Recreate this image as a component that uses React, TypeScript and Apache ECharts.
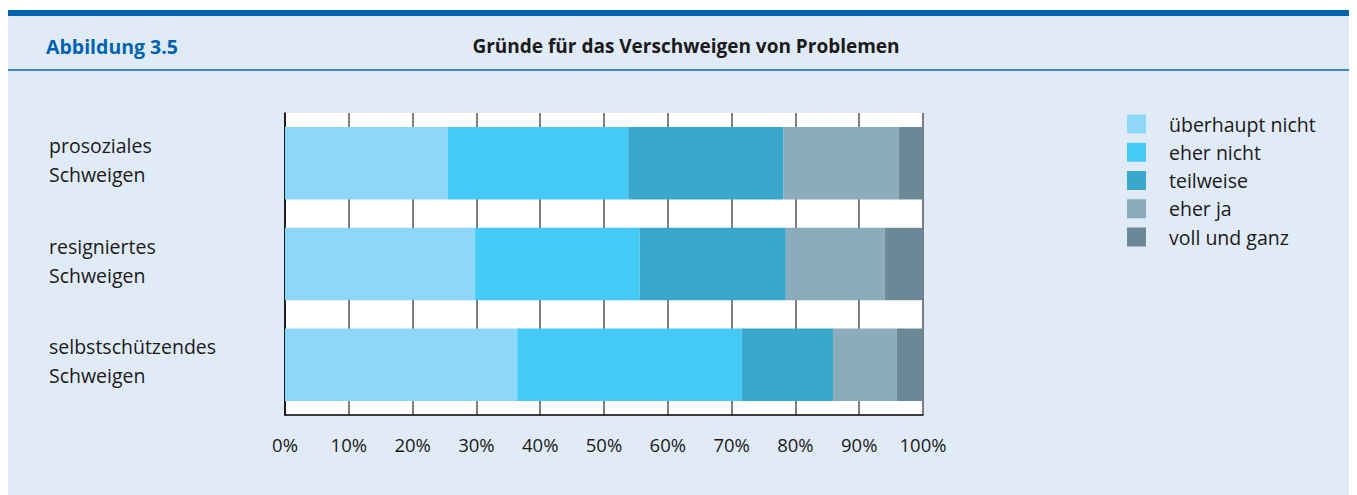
import React, { useEffect, useRef } from "react";
import * as echarts from "echarts";

const categories = ["prosoziales\nSchweigen", "resigniertes\nSchweigen", "selbstschützendes\nSchweigen"];
const seriesNames = ["überhaupt nicht", "eher nicht", "teilweise", "eher ja", "voll und ganz"];
const ueberhauptNicht = [25.5, 29.8, 36.4];
const eherNicht = [28.3, 25.8, 35.2];
const teilweise = [24.3, 22.9, 14.3];
const eherJa = [18.1, 15.5, 10.0];
const vollUndGanz = [3.8, 6.0, 4.1];
const seriesValues = [ueberhauptNicht, eherNicht, teilweise, eherJa, vollUndGanz];
const colors = ["#8DD7F7", "#45C9F5", "#3AA7CC", "#8BACBD", "#6A8896"];
const figureLabel = "Abbildung 3.5";
const titleText = "Gründe für das Verschweigen von Problemen";

const FONT = "Open Sans";

export default function App() {
  const ref = useRef<HTMLDivElement>(null);
  useEffect(() => {
    if (!ref.current) return;
    const chart = echarts.init(ref.current, null, { renderer: "svg" });
    chart.setOption({
      animation: false,
      textStyle: { fontFamily: FONT },
      graphic: [
        { type: "rect", z: -10, shape: { x: 0, y: 8, width: 1349, height: 479 }, style: { fill: "#E1EBF7" } },
        { type: "rect", shape: { x: 0, y: 2, width: 1349, height: 6 }, style: { fill: "#0063AF" } },
        { type: "rect", shape: { x: 0, y: 61, width: 1349, height: 2 }, style: { fill: "#3D87C9" } },
        {
          type: "text",
          x: 38,
          y: 38,
          style: { text: figureLabel, fill: "#0063AF", font: `bold 19.5px "${FONT}"`, textVerticalAlign: "middle" },
        },
        {
          type: "text",
          x: 678,
          y: 38,
          style: { text: titleText, fill: "#1a1a1a", font: `bold 19px "${FONT}"`, textAlign: "center", textVerticalAlign: "middle" },
        },
      ],
      legend: {
        orient: "vertical",
        left: 1119,
        top: 106,
        padding: 0,
        itemWidth: 19,
        itemHeight: 19,
        itemGap: 8.25,
        icon: "rect",
        data: seriesNames,
        textStyle: { fontSize: 19.5, lineHeight: 19, color: "#1a1a1a", padding: [0, 0, 0, 18], fontFamily: FONT },
      },
      grid: {
        left: 277,
        top: 105,
        width: 638,
        height: 302,
        show: true,
        backgroundColor: "#FFFFFF",
        borderWidth: 0,
      },
      xAxis: {
        type: "value",
        min: 0,
        max: 100,
        interval: 10,
        axisLine: { show: true, lineStyle: { color: "#000", width: 1.5 } },
        axisTick: { show: false },
        splitLine: { show: true, lineStyle: { color: "#555", width: 1.5 } },
        axisLabel: { formatter: "{value}%", fontSize: 18.5, color: "#1a1a1a", margin: 20, fontFamily: FONT },
      },
      yAxis: {
        type: "category",
        data: categories,
        inverse: true,
        axisLine: { show: true, lineStyle: { color: "#000", width: 1.5 } },
        axisTick: { show: false },
        axisLabel: {
          align: "left",
          verticalAlign: "top",
          margin: 236,
          fontSize: 19.5,
          lineHeight: 29,
          padding: [-32.5, 0, 0, 0],
          color: "#1a1a1a",
          fontFamily: FONT,
        },
      },
      series: seriesValues.map((vals, i) => ({
        name: seriesNames[i],
        type: "bar",
        stack: "total",
        data: vals,
        barWidth: "72%",
        itemStyle: { color: colors[i] },
      })),
    });
    return () => chart.dispose();
  }, []);
  return <div ref={ref} style={{ width: 1349, height: 487 }} />;
}
